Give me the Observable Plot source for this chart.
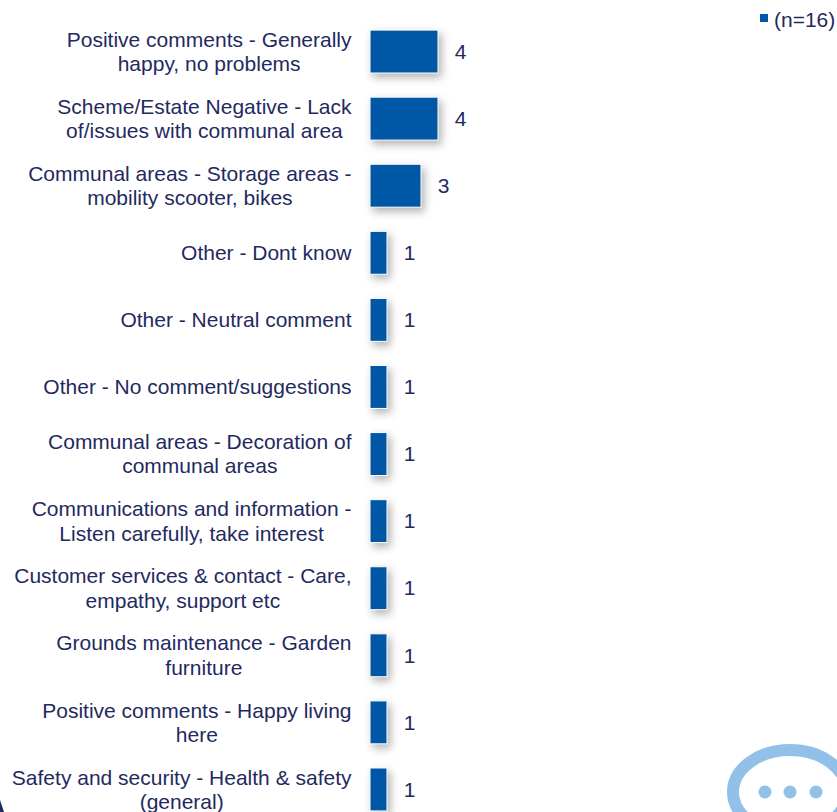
<!DOCTYPE html>
<html>
<head>
<meta charset="utf-8">
<script src="https://cdn.jsdelivr.net/npm/d3@7"></script>
<script src="https://cdn.jsdelivr.net/npm/@observablehq/plot@0.6"></script>
<style>
html,body{margin:0;padding:0;background:#fff;overflow:hidden;width:837px;height:812px}
#wrap{position:relative;width:837px;height:812px}
#wrap svg{position:absolute;left:0;top:0}
#legend{position:absolute;left:760px;top:12px;font:21px "Liberation Sans",Arial,sans-serif;color:#1f2a60;line-height:20px;white-space:nowrap}
#legend i{position:absolute;left:0;top:1.5px;width:8px;height:8px;background:#0057a6}
#legend span{position:absolute;left:14px;top:-2px}
</style>
</head>
<body>
<div id="wrap">
<svg id="deco" width="837" height="812">
<ellipse cx="790" cy="792" rx="57" ry="42" fill="none" stroke="#92c0e8" stroke-width="12"/>
<circle cx="765" cy="792" r="6.5" fill="#92c0e8"/>
<circle cx="790" cy="792" r="6.5" fill="#92c0e8"/>
<circle cx="816" cy="792" r="6.5" fill="#92c0e8"/>
<polygon points="0,800 4,812 0,812" fill="#1f2a60"/>
</svg>
<div id="chart"></div>
<div id="legend"><i></i><span>(n=16)</span></div>
</div>
<script>
const categories = [
  "Positive comments - Generally\nhappy, no problems",
  "Scheme/Estate Negative - Lack\nof/issues with communal area",
  "Communal areas - Storage areas -\nmobility scooter, bikes",
  "Other - Dont know",
  "Other - Neutral comment",
  "Other - No comment/suggestions",
  "Communal areas - Decoration of\ncommunal areas",
  "Communications and information -\nListen carefully, take interest",
  "Customer services & contact - Care,\nempathy, support etc",
  "Grounds maintenance - Garden\nfurniture",
  "Positive comments - Happy living\nhere",
  "Safety and security - Health & safety\n(general)"
];
const values = [4, 4, 3, 1, 1, 1, 1, 1, 1, 1, 1, 1];
const rows = categories.map((label, i) => ({label, value: values[i]}));

const fontFamily = '"Liberation Sans", Arial, sans-serif';
const fontSize = 21;
const ink = "#1f2a60";
const ctx = document.createElement("canvas").getContext("2d");
ctx.font = `${fontSize}px ${fontFamily}`;
const blockWidth = s => Math.max(...s.split("\n").map(l => ctx.measureText(l).width));

const labelMarks = rows.map(r => Plot.text([r], {
  x: () => 0,
  y: "label",
  text: "label",
  textAnchor: "middle",
  lineHeight: 1.155,
  dx: -19 - blockWidth(r.label) / 2,
  dy: -1,
  fill: ink,
  fontSize
}));

const chart = Plot.plot({
  width: 837,
  height: 812,
  margin: 0,
  style: {background: "transparent", fontFamily, overflow: "hidden"},
  x: {domain: [0, 4], range: [370, 438], axis: null},
  y: {domain: categories, range: [18, 823], paddingInner: 0.36, paddingOuter: 0.18, round: false, axis: null},
  marks: [
    Plot.barX(rows, {
      x1: () => 0,
      x2: "value",
      y: "label",
      fill: "#0057a6",
      stroke: "#ffffff",
      strokeWidth: 1,
      imageFilter: "drop-shadow(3px 4px 4px rgba(0,0,0,0.3))"
    }),
    ...labelMarks,
    Plot.text(rows, {
      x: "value",
      y: "label",
      text: "value",
      textAnchor: "middle",
      dx: 22,
      fill: ink,
      fontSize
    })
  ]
});
document.getElementById("chart").append(chart);
</script>
</body>
</html>
